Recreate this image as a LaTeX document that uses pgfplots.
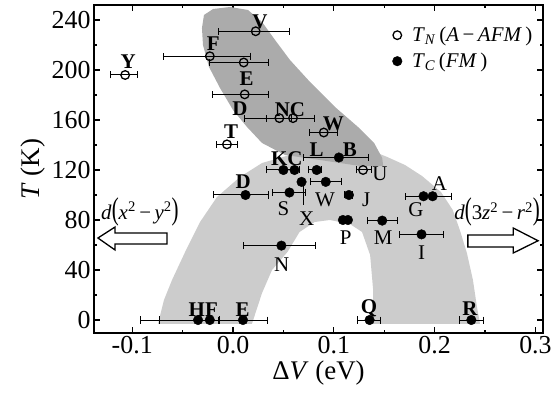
\documentclass[border=0pt]{standalone}
\usepackage{fontspec}
\setmainfont{Liberation Serif}
\usepackage{graphicx}
\usepackage{pgfplots}
\pgfplotsset{compat=1.18}
\begin{document}
\begin{tikzpicture}
\begin{axis}[
  scale only axis, width=449bp, height=328bp,
  xmin=-0.1379, xmax=0.3075, ymin=-10.4, ymax=252,
  xtick={-0.1,0,0.1,0.2,0.3}, xticklabels={-0.1,0.0,0.1,0.2,0.3},
  ytick={0,40,80,120,160,200,240},
  minor x tick num=1, minor y tick num=1,
  major tick length=6bp, minor tick length=3.5bp,
  tick style={line width=1.1bp, black},
  axis line style={line width=1.6bp},
  ticklabel style={font=\fontsize{26}{30}\selectfont},
  /pgf/number format/assume math mode=true,
  xlabel={Δ\textit{V} (eV)},
  ylabel={\textit{T} (K)},
  label style={font=\fontsize{27}{32}\selectfont},
  legend style={draw=none, fill=none, font=\fontsize{21}{25}\selectfont,
    at={(axis cs:0.158,236)}, anchor=north west, inner sep=0pt,
    row sep=6bp, /tikz/every odd column/.append style={column sep=8bp}},
  legend cell align=left,
  legend image code/.code={\draw[#1] plot coordinates {(0.2cm,0cm)};},
  clip=false,
  error bars/error bar style={line width=1bp, black},
  error bars/error mark=|,
  error bars/error mark options={line width=1bp, mark size=3.5bp, black, solid},
]
% shaded regions
\addplot[fill=black!20, draw=none, forget plot] coordinates {
(-0.0744,-3) (-0.0685,16) (-0.0605,32) (-0.0466,56) (-0.0327,78.4) (-0.0159,98.4)
(0.0069,114.4) (0.0288,125.6) (0.0665,134.4) (0.106,137) (0.136,136) (0.153,130.4)
(0.1706,124) (0.1875,115.2) (0.2063,102.4) (0.218,88) (0.225,72) (0.232,53.6)
(0.238,32) (0.242,10.4) (0.245,-3)
(0.139,-3) (0.139,24) (0.136,52) (0.128,70.4) (0.116,76.8) (0.096,80) (0.081,78.4)
(0.066,70.4) (0.054,54.4) (0.0387,40) (0.0288,21.6) (0.0188,-3)} -- cycle;
\addplot[fill=black!33, draw=none, forget plot] coordinates {
(-0.0308,233.6) (-0.0288,244) (-0.0198,248.8) (-0.003,250.4) (0.0149,248) (0.0288,238.4)
(0.0417,224) (0.0565,208) (0.0764,190.4) (0.1012,170.4) (0.124,154.4) (0.140,141.6)
(0.148,129.6) (0.149,123.2) (0.126,123.2) (0.0863,128) (0.0516,132) (0.0288,141.6)
(0.0139,154.4) (0,168) (-0.0129,185.6) (-0.0238,202.4) (-0.0298,220)} -- cycle;

% T_N open points
\addplot[only marks, mark=o, mark size=4.3bp, mark options={fill=white, line width=1.3bp},
  error bars/.cd, x dir=both, x explicit] coordinates {
(-0.107,196) += (0.012,0) -= (0.015,0)
(0.0225,231) += (0.0335,0) -= (0.0365,0)
(-0.023,211) += (0.040,0) -= (0.046,0)
(0.0106,206) += (0.025,0) -= (0.034,0)
(0.0116,180.5) += (0.024,0) -= (0.032,0)
(0.046,161.5) += (0.012,0) -= (0.035,0)
(0.0595,161.5) += (0.0215,0) -= (0.026,0)
(0.090,150) += (0.014,0) -= (0.014,0)
(-0.006,140.5) += (0.010,0) -= (0.010,0)
(0.129,120) += (0.008,0) -= (0.007,0)
};
\addlegendentry{\textit{T}\textsubscript{\textit{N}}\,(\textit{A}\,−\,\textit{AFM}\,)}

% T_C closed points
\addplot[only marks, mark=*, mark size=4.8bp, mark options={fill=black},
  error bars/.cd, x dir=both, x explicit] coordinates {
(0.0124,100) += (0.0226,0) -= (0.0314,0)
(0.056,102) += (0.016,0) -= (0.017,0)
(0.068,110.5) += (0,0) -= (0,0)
(0.092,110.5) += (0.016,0) -= (0.015,0)
(0.050,120) += (0.016,0) -= (0.017,0)
(0.061,120) += (0,0) -= (0,0)
(0.083,120) += (0.005,0) -= (0.008,0)
(0.105,130) += (0.029,0) -= (0.035,0)
(0.115,100) += (0.004,0) -= (0.004,0)
(0.109,80) += (0,0) -= (0,0)
(0.114,80) += (0,0) -= (0,0)
(0.148,79.5) += (0.015,0) -= (0.015,0)
(0.189,99) += (0,0) -= (0.018,0)
(0.198,99) += (0.019,0) -= (0,0)
(0.187,68.5) += (0.022,0) -= (0.022,0)
(0.048,59.5) += (0.034,0) -= (0.038,0)
(-0.0347,0) += (0.020,0) -= (0.057,0)
(-0.023,0) += (0.009,0) -= (0.050,0)
(0.0099,0) += (0.024,0) -= (0.023,0)
(0.1355,0) += (0.0105,0) -= (0.0125,0)
(0.2364,0) += (0.0116,0) -= (0.0114,0)
};
\addlegendentry{\textit{T}\textsubscript{\textit{C}}\,(\textit{FM}\,)}

% leader line for X
\draw[line width=1bp] (axis cs:0.070,110.5) -- (axis cs:0.070,92);

% labels
\tikzset{lb/.style={font=\fontsize{21}{24}\selectfont\bfseries, inner sep=0pt},
         lr/.style={font=\fontsize{21}{24}\selectfont, inner sep=0pt}}
\node[lb] at (axis cs:0.0268,238.6) {V};
\node[lb] at (axis cs:-0.0195,221.3) {F};
\node[lb] at (axis cs:0.0136,193.3) {E};
\node[lb] at (axis cs:0.0069,169.3) {D};
\node[lb] at (axis cs:0.0565,168) {NC};
\node[lb] at (axis cs:0.0995,156.8) {W};
\node[lb] at (axis cs:-0.002,150.7) {T};
\node[lb] at (axis cs:-0.104,206.7) {Y};
\node[lb] at (axis cs:0.0533,129.3) {KC};
\node[lb] at (axis cs:0.083,136) {L};
\node[lb] at (axis cs:0.116,136) {B};
\node[lr] at (axis cs:0.1458,117.3) {U};
\node[lb] at (axis cs:0.0102,110.7) {D};
\node[lr] at (axis cs:0.05,89.3) {S};
\node[lr] at (axis cs:0.0731,81.3) {X};
\node[lr] at (axis cs:0.0913,96.5) {W};
\node[lr] at (axis cs:0.132,96) {J};
\node[lr] at (axis cs:0.1118,66.1) {P};
\node[lr] at (axis cs:0.149,66.1) {M};
\node[lr] at (axis cs:0.1815,88) {G};
\node[lr] at (axis cs:0.2047,109.3) {A};
\node[lr] at (axis cs:0.187,53.9) {I};
\node[lr] at (axis cs:0.0483,44) {N};
\node[lb] at (axis cs:-0.0295,8) {HF};
\node[lb] at (axis cs:0.0096,8) {E};
\node[lb] at (axis cs:0.135,9.3) {Q};
\node[lb] at (axis cs:0.235,9.3) {R};

% orbital labels and arrows
\node[font=\fontsize{21}{24}\selectfont, inner sep=0pt] at (axis cs:-0.0923,86.6)
  {\textit{d}\scalebox{1}[1.5]{(}\textit{x}\textsuperscript{2}\,−\,\textit{y}\textsuperscript{2}\scalebox{1}[1.5]{)}};
\node[font=\fontsize{21}{24}\selectfont, inner sep=0pt] at (axis cs:0.262,86.4)
  {\textit{d}\scalebox{1}[1.5]{(}3\textit{z}\textsuperscript{2}\,−\,\textit{r}\textsuperscript{2}\scalebox{1}[1.5]{)}};
\draw[line width=1.3bp, fill=white] (axis cs:-0.134,65.6) -- (axis cs:-0.117,74.4) -- (axis cs:-0.117,69.6)
  -- (axis cs:-0.0655,69.6) -- (axis cs:-0.0655,60.8) -- (axis cs:-0.117,60.8) -- (axis cs:-0.117,56) -- cycle;
\draw[line width=1.3bp, fill=white] (axis cs:0.3026,63.4) -- (axis cs:0.278,73.6) -- (axis cs:0.278,68)
  -- (axis cs:0.233,68) -- (axis cs:0.233,58.4) -- (axis cs:0.278,58.4) -- (axis cs:0.278,53.6) -- cycle;
\end{axis}
\path (current axis.south west) ++(-94bp,-77bp) rectangle ++(559bp,410bp);
\end{tikzpicture}
\end{document}
